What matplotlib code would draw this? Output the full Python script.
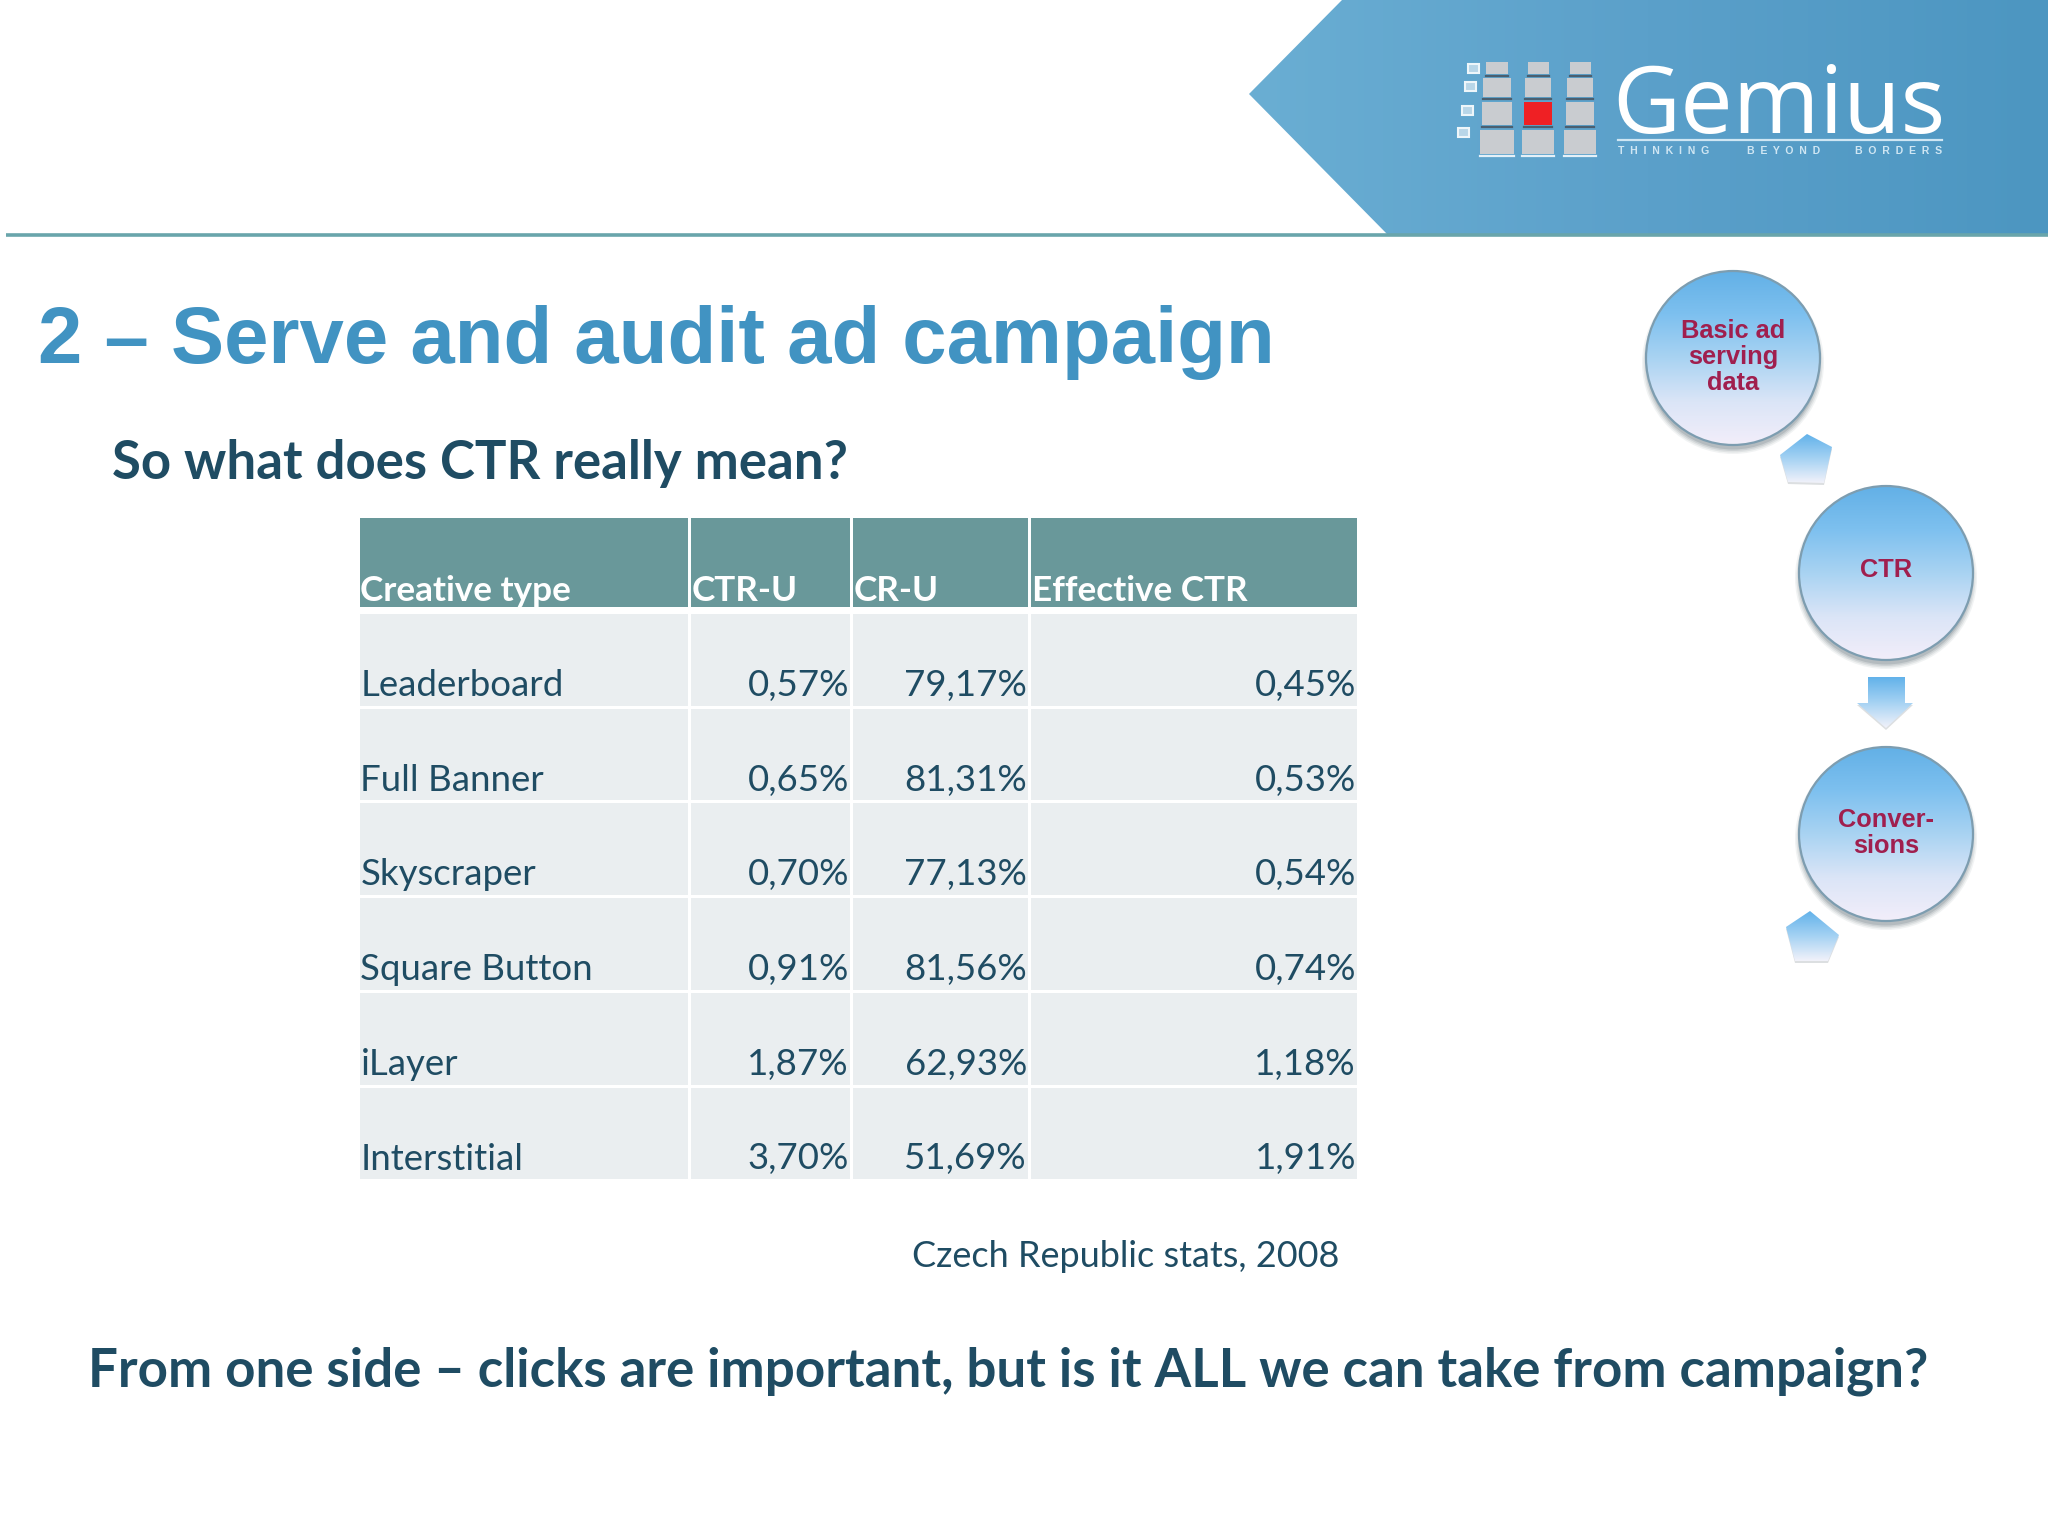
import numpy as np
import matplotlib
matplotlib.use('Agg')
import matplotlib.pyplot as plt
from matplotlib.colors import LinearSegmentedColormap
from matplotlib.patches import Rectangle, Polygon, Ellipse

title = '2 – Serve and audit ad campaign'
subtitle = 'So what does CTR really mean?'
source_note = 'Czech Republic stats, 2008'
bottom_line = 'From one side – clicks are important, but is it ALL we can take from campaign?'

columns = ['Creative type', 'CTR-U', 'CR-U', 'Effective CTR']
creative_types = ['Leaderboard', 'Full Banner', 'Skyscraper', 'Square Button', 'iLayer', 'Interstitial']
ctr_u = ['0,57%', '0,65%', '0,70%', '0,91%', '1,87%', '3,70%']
cr_u = ['79,17%', '81,31%', '77,13%', '81,56%', '62,93%', '51,69%']
effective_ctr = ['0,45%', '0,53%', '0,54%', '0,74%', '1,18%', '1,91%']

steps = [['Basic ad\nserving\ndata', 1733, 358], ['CTR', 1886, 573], ['Conver-\nsions', 1886, 834]]

DARK = '#1f4c63'
BLUE = '#4193c2'

fig = plt.figure(figsize=(20.48, 15.36), dpi=100)
ax = fig.add_axes([0, 0, 1, 1])
ax.set_axis_off()


def gradient(colors, extent, clip=None, horizontal=False):
    cmap = LinearSegmentedColormap.from_list('g', colors)
    g = np.linspace(0, 1, 256).reshape(-1, 1)
    if horizontal:
        g = g.T
    im = ax.imshow(g, cmap=cmap, extent=extent, aspect='auto', zorder=2)
    if clip is not None:
        im.set_clip_path(clip)
    return im


# banner
banner = Polygon([[1249, 94], [1342, 0], [2048, 0], [2048, 235], [1388, 235]], closed=True,
                 fc='none', ec='none', transform=ax.transData)
ax.add_patch(banner)
gradient(['#6aaed3', '#5ba0ca', '#4c96c1'], (1249, 2048, 235, 0), clip=banner, horizontal=True)
ax.plot([6, 2048], [234.5, 234.5], color='#69a5ab', lw=2.6, zorder=3, solid_capstyle='butt')

# logo squares, narrower towards the top
col_x = [1497, 1538, 1580]
col_w = [32, 30, 30]
row_y = [62, 78, 102, 130]
row_h = [12, 19, 23, 24]
row_scale = [0.7, 0.85, 0.95, 1.05]
for c in range(3):
    for r in range(4):
        red = c == 1 and r == 2
        w = col_w[c] * row_scale[r]
        ax.add_patch(Rectangle((col_x[c] - w / 2, row_y[r]), w, row_h[r], fc='#ef2024' if red else '#c9ccd0',
                               ec='none', zorder=4))
        ax.plot([col_x[c] - w / 2, col_x[c] + w / 2], [row_y[r] + row_h[r] + 1.5] * 2,
                color='#4a5f70' if r < 3 else '#e4f0f8', lw=1.6, zorder=4)
for x0, y0 in zip([1468, 1465, 1462, 1458], [64, 82, 106, 128]):
    ax.add_patch(Rectangle((x0, y0), 11, 9, fc='#b8d6e8', ec='#eef6fa', lw=1.5, zorder=4))
ax.text(1612, 133, 'Gemius', color='white', fontsize=67.5, family='Open Sans', fontweight='normal', zorder=5,
        ha='left', va='baseline')
ax.plot([1618, 1942], [140, 140], color='#cfe6f3', lw=1.6, zorder=5)
ax.text(1618, 154, 'T  H  I  N  K  I  N  G', color='#cfe6f3', fontsize=7.6, family='Liberation Sans',
        fontweight='bold', zorder=5, va='baseline')
ax.text(1747, 154, 'B  E  Y  O  N  D', color='#cfe6f3', fontsize=7.6, family='Liberation Sans',
        fontweight='bold', zorder=5, va='baseline')
ax.text(1855, 154, 'B  O  R  D  E  R  S', color='#cfe6f3', fontsize=7.6, family='Liberation Sans',
        fontweight='bold', zorder=5, va='baseline')

# headings
ax.text(38, 363, title, color=BLUE, fontsize=57.4, family='Liberation Sans', fontweight='bold', va='baseline')
ax.text(112, 479, subtitle, color=DARK, fontsize=38, family='Lato', fontweight='bold', va='baseline')
ax.text(1339, 1267, source_note, color=DARK, fontsize=25.9, family='Lato', ha='right', va='baseline')
ax.text(88, 1387, bottom_line, color=DARK, fontsize=38.1, family='Lato', fontweight='bold', va='baseline')

# table
edges = [358, 689, 851, 1029, 1358]
aligns = ['left', 'right', 'right', 'right']
for i, name in enumerate(columns):
    x0, x1 = edges[i] + 1.5, edges[i + 1] - 1.5
    ax.add_patch(Rectangle((x0, 518), x1 - x0, 89, fc='#69989a', ec='none', zorder=2))
    ax.text(x0 + 1, 601, name, color='white', fontsize=25.3, family='Lato', fontweight='bold', va='baseline', zorder=3)

table_rows = list(zip(creative_types, ctr_u, cr_u, effective_ctr))
for r, row in enumerate(table_rows):
    top = 614 + r * 94.7
    for i, val in enumerate(row):
        x0, x1 = edges[i] + 1.5, edges[i + 1] - 1.5
        ax.add_patch(Rectangle((x0, top), x1 - x0, 91.7, fc='#eaeef0', ec='none', zorder=2))
        tx = x0 + 1 if aligns[i] == 'left' else x1 - 0.5
        ax.text(tx, top + 82, val, color=DARK, fontsize=26.4, family='Lato', ha=aligns[i], va='baseline', zorder=3)

# cycle on the right
CIRCLE = ['#62b0e6', '#7dc0ef', '#a9d3f2', '#dbe5f7', '#f3eefa']
for label, cx, cy in steps:
    # soft shadow
    for grow, a in zip([10, 7, 4, 1], [0.10, 0.15, 0.2, 0.3]):
        ax.add_patch(Ellipse((cx, cy + 5), 172 + grow, 172 + grow, fc='#7f8a92', ec='none', alpha=a, zorder=2))
    e = Ellipse((cx, cy), 174, 174, fc='none', ec='#7d9db0', lw=1.6, zorder=4)
    ax.add_patch(e)
    im = gradient(CIRCLE, (cx - 88, cx + 88, cy + 88, cy - 88), clip=e)
    im.set_zorder(3)
    ax.text(cx, cy - 1 if label != 'CTR' else cy - 3, label, color='#a01f4e', fontsize=18.3, family='Liberation Sans',
            fontweight='bold', ha='center', va='center', linespacing=1.08, zorder=5)

arrow_shapes = [
    [[1780, 455], [1807, 434], [1832, 447], [1824, 483], [1788, 482]],
    [[1868, 677], [1905, 677], [1905, 703], [1913, 703], [1886, 728], [1857, 703], [1868, 703]],
    [[1786, 927], [1810, 911], [1839, 935], [1828, 961], [1795, 961]],
]
for pts in arrow_shapes:
    pts = np.array(pts)
    ax.add_patch(Polygon(pts + [0, 2], closed=True, fc='#8c959c', ec='none', alpha=0.3, zorder=1))
    p = Polygon(pts, closed=True, fc='none', ec='none')
    ax.add_patch(p)
    gradient(['#62b2ea', '#a5d2f3', '#f2f2fa'], (pts[:, 0].min(), pts[:, 0].max(), pts[:, 1].max(), pts[:, 1].min()),
             clip=p)

ax.set_xlim(0, 2048)
ax.set_ylim(1536, 0)
fig.savefig('out.png', dpi=100, facecolor='white')
